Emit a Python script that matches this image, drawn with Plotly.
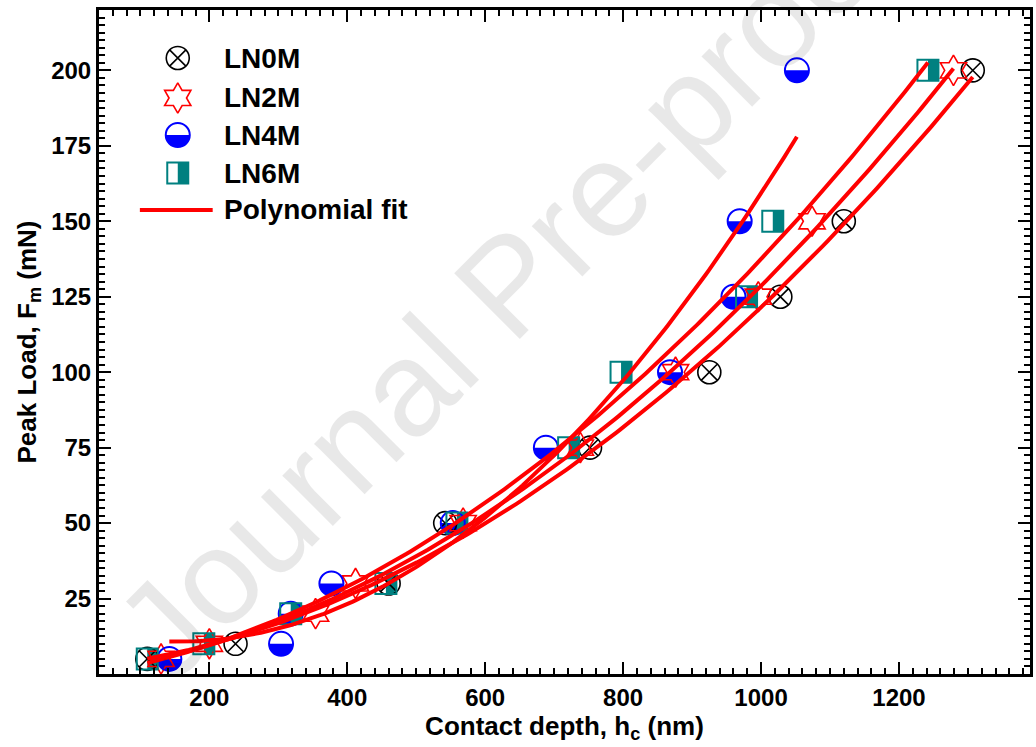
import numpy as np
import plotly.graph_objects as go

# Peak load (mN) versus contact depth (nm) for each sample
load_ln0m = [5, 10, 30, 50, 75, 100, 125, 150, 200]
depth_ln0m = [110, 238, 460, 542, 752, 925, 1028, 1120, 1307]

load_ln2m = [5, 10, 20, 30, 50, 75, 100, 125, 150, 200]
depth_ln2m = [130, 200, 354, 412, 568, 738, 876, 996, 1074, 1279]

load_ln4m = [5, 10, 20, 30, 50, 75, 100, 125, 150, 200]
depth_ln4m = [142, 304, 318, 377, 553, 688, 868, 960, 969, 1052]

load_ln6m = [5, 10, 20, 30, 50, 75, 100, 125, 150, 200]
depth_ln6m = [110, 192, 318, 456, 559, 721, 797, 979, 1017, 1242]

x_ticks = [200, 400, 600, 800, 1000, 1200]
y_ticks = [25, 50, 75, 100, 125, 150, 175, 200]

series_names = ["LN0M", "LN2M", "LN4M", "LN6M"]
fit_name = "Polynomial fit"

BLUE = "#0000ff"
TEAL = "#008080"
RED = "#ff0000"
FONT = "Liberation Sans, Arial, sans-serif"

R_CIRC = 12      # radius of the half-filled circle (px)
H_SQ = 10.5      # half side of the half-filled square (px)


def lower_half_disk(r, n=24):
    ang = np.linspace(np.pi, 2 * np.pi, n)
    pts = [f"{r * np.cos(a):.2f},{r * np.sin(a):.2f}" for a in ang]
    return "M" + " L".join(pts) + " Z"


def right_half_square(h):
    return f"M0,{-h} L{h},{-h} L{h},{h} L0,{h} Z"


def half_fill_shapes(xs, ys, xref, yref, kind):
    shapes = []
    for x, y in zip(xs, ys):
        if kind == "circle":
            path, col = lower_half_disk(R_CIRC), BLUE
        else:
            path, col = right_half_square(H_SQ), TEAL
        shapes.append(dict(type="path", xref=xref, yref=yref,
                           xsizemode="pixel", ysizemode="pixel",
                           xanchor=x, yanchor=y, path=path,
                           fillcolor=col, line=dict(width=0), layer="below"))
    return shapes


fig = go.Figure()

marker_styles = {
    "LN0M": dict(symbol="circle-x-open", size=23, color="black", line=dict(width=1.6, color="black")),
    "LN2M": dict(symbol="hexagram-open", size=23, color=RED, line=dict(width=1.6, color=RED)),
    "LN4M": dict(symbol="circle-open", size=24, color=BLUE, line=dict(width=2, color=BLUE)),
    "LN6M": dict(symbol="square-open", size=21, color=TEAL, line=dict(width=2, color=TEAL)),
}
data = {
    "LN0M": (depth_ln0m, load_ln0m),
    "LN2M": (depth_ln2m, load_ln2m),
    "LN4M": (depth_ln4m, load_ln4m),
    "LN6M": (depth_ln6m, load_ln6m),
}

for name in series_names:
    xs, ys = data[name]
    fig.add_trace(go.Scatter(x=xs, y=ys, mode="markers", name=name,
                             marker=marker_styles[name], showlegend=False,
                             cliponaxis=False))

# second-order polynomial fit of each series
for name in series_names:
    xs, ys = data[name]
    coef = np.polyfit(xs, ys, 2)
    xf = np.linspace(min(xs), max(xs), 200)
    fig.add_trace(go.Scatter(x=xf, y=np.polyval(coef, xf), mode="lines",
                             line=dict(color=RED, width=4), showlegend=False,
                             hoverinfo="skip"))

shapes = []
shapes += half_fill_shapes(depth_ln4m, load_ln4m, "x", "y", "circle")
shapes += half_fill_shapes(depth_ln6m, load_ln6m, "x", "y", "square")

# legend drawn on an overlay axis spanning the plot area in [0, 1]
leg_x = 0.0846
leg_rows = [0.9277, 0.8675, 0.8117, 0.7545, 0.6988]
leg_text_x = 0.1317

for i, name in enumerate(series_names):
    fig.add_trace(go.Scatter(x=[leg_x], y=[leg_rows[i]], mode="markers",
                             marker=marker_styles[name], xaxis="x2", yaxis="y2",
                             showlegend=False, hoverinfo="skip"))
fig.add_trace(go.Scatter(x=[0.0439, 0.1221], y=[leg_rows[4]] * 2, mode="lines",
                         line=dict(color=RED, width=4), xaxis="x2", yaxis="y2",
                         showlegend=False, hoverinfo="skip"))
shapes += half_fill_shapes([leg_x], [leg_rows[2]], "x2", "y2", "circle")
shapes += half_fill_shapes([leg_x], [leg_rows[3]], "x2", "y2", "square")

annotations = []
for i, label in enumerate(series_names + [fit_name]):
    annotations.append(dict(x=leg_text_x, y=leg_rows[i], xref="paper", yref="paper",
                            text=label, showarrow=False, xanchor="left", yanchor="middle",
                            font=dict(family=FONT, size=28, color="black", weight="bold")))

annotations.append(dict(x=0.44, y=0.586, xref="paper", yref="paper",
                        text="Journal Pre-proof", showarrow=False, textangle=-45,
                        font=dict(family=FONT, size=135, color="rgba(0,0,0,0.09)")))

axis_common = dict(
    showline=True, linecolor="black", linewidth=3, mirror="allticks",
    ticks="inside", ticklen=12, tickwidth=2, tickcolor="black",
    showgrid=False, zeroline=False,
    tickfont=dict(family=FONT, size=24, color="black", weight="bold"),
    minor=dict(ticks="inside", ticklen=6, tickwidth=2, tickcolor="black", showgrid=False),
)

fig.update_layout(
    width=1036, height=747,
    margin=dict(l=99, r=3, t=10, b=73),
    plot_bgcolor="white", paper_bgcolor="white",
    showlegend=False,
    xaxis=dict(range=[40, 1390], tickvals=x_ticks, **axis_common,
               title=dict(text="Contact depth, h<sub>c</sub> (nm)", standoff=4,
                          font=dict(family=FONT, size=26, color="black", weight="bold"))),
    yaxis=dict(range=[0, 220], tickvals=y_ticks, **axis_common,
               title=dict(text="Peak Load, F<sub>m</sub> (mN)", standoff=8,
                          font=dict(family=FONT, size=26, color="black", weight="bold"))),
    xaxis2=dict(range=[0, 1], overlaying="x", visible=False, fixedrange=True),
    yaxis2=dict(range=[0, 1], overlaying="y", visible=False, fixedrange=True),
    shapes=shapes,
    annotations=annotations,
)
fig.layout.xaxis.minor.dtick = 20
fig.layout.xaxis.minor.tick0 = 0
fig.layout.yaxis.minor.dtick = 2.5
fig.layout.yaxis.minor.tick0 = 0

fig.write_html("out.html")
